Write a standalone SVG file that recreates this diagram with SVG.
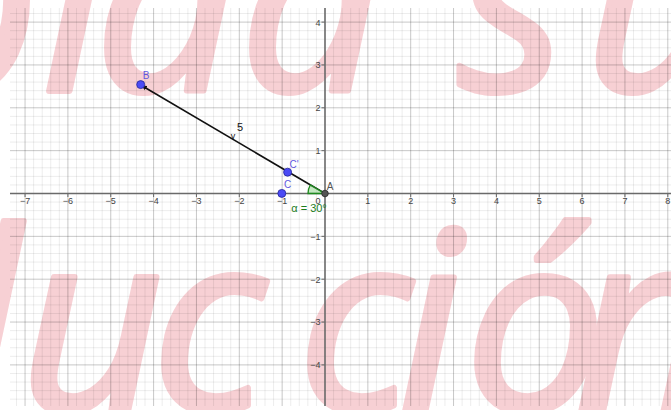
<svg xmlns="http://www.w3.org/2000/svg" width="671" height="410" viewBox="0 0 671 410">
<style>
.wm{font-family:"Open Sans","Liberation Sans",sans-serif;font-style:italic;font-weight:400;font-size:250px;fill:#f7d0d4;stroke:#f7d0d4;stroke-width:6;stroke-linejoin:round}
.minor{stroke:#000;stroke-opacity:0.075;stroke-width:1;fill:none}
.major{stroke:#000;stroke-opacity:0.22;stroke-width:1;fill:none}
.axis{stroke:#6a6a6a;stroke-width:1.6;fill:none}
.tl{font-family:"Liberation Sans",Arial,sans-serif;font-size:9px;fill:#444;text-anchor:middle}
.yl{font-family:"Liberation Sans",Arial,sans-serif;font-size:9px;fill:#444;text-anchor:end}
.pl{font-family:"Liberation Sans",Arial,sans-serif;font-size:10px;fill:#6257e0}
.pt{fill:#4b4bf5;stroke:#26269a;stroke-width:0.8}
</style>
<defs>
<marker id="arr" viewBox="0 0 10 10" refX="9" refY="5" markerWidth="6" markerHeight="6" orient="auto" markerUnits="userSpaceOnUse">
<path d="M0,1 L10,5 L0,9 Z" fill="#111"/>
</marker>
</defs>
<rect width="671" height="410" fill="#fff"/>
<g id="watermark">
<text class="wm" x="-105 42 95 240 400 458 585" y="91">bida su</text>
<text class="wm" x="-125 20 152 298 398 465 575" y="411">ducción</text>
</g>
<g id="grid">
<path class="minor" d="M16.48,8V406M33.62,8V406M42.19,8V406M50.76,8V406M59.33,8V406M76.47,8V406M85.04,8V406M93.61,8V406M102.18,8V406M119.32,8V406M127.89,8V406M136.46,8V406M145.03,8V406M162.17,8V406M170.74,8V406M179.31,8V406M187.88,8V406M205.02,8V406M213.59,8V406M222.16,8V406M230.73,8V406M247.87,8V406M256.44,8V406M265.01,8V406M273.58,8V406M290.72,8V406M299.29,8V406M307.86,8V406M316.43,8V406M333.57,8V406M342.14,8V406M350.71,8V406M359.28,8V406M376.42,8V406M384.99,8V406M393.56,8V406M402.13,8V406M419.27,8V406M427.84,8V406M436.41,8V406M444.98,8V406M462.12,8V406M470.69,8V406M479.26,8V406M487.83,8V406M504.97,8V406M513.54,8V406M522.11,8V406M530.68,8V406M547.82,8V406M556.39,8V406M564.96,8V406M573.53,8V406M590.67,8V406M599.24,8V406M607.81,8V406M616.38,8V406M633.52,8V406M642.09,8V406M650.66,8V406M659.23,8V406
M10,13.53H671M10,30.67H671M10,39.24H671M10,47.81H671M10,56.38H671M10,73.52H671M10,82.09H671M10,90.66H671M10,99.23H671M10,116.37H671M10,124.94H671M10,133.51H671M10,142.08H671M10,159.22H671M10,167.79H671M10,176.36H671M10,184.93H671M10,202.07H671M10,210.64H671M10,219.21H671M10,227.78H671M10,244.92H671M10,253.49H671M10,262.06H671M10,270.63H671M10,287.77H671M10,296.34H671M10,304.91H671M10,313.48H671M10,330.62H671M10,339.19H671M10,347.76H671M10,356.33H671M10,373.47H671M10,382.04H671M10,390.61H671M10,399.18H671"/>
<path class="major" d="M25.05,8V406M67.9,8V406M110.75,8V406M153.6,8V406M196.45,8V406M239.3,8V406M282.15,8V406M367.85,8V406M410.7,8V406M453.55,8V406M496.4,8V406M539.25,8V406M582.1,8V406M624.95,8V406M667.8,8V406
M10,22.1H671M10,64.95H671M10,107.8H671M10,150.65H671M10,236.35H671M10,279.2H671M10,322.05H671M10,364.9H671"/>
</g>
<g id="axes">
<path class="axis" d="M10,193.5H671M325,8V406"/>
<path stroke="#6a6a6a" stroke-width="1" d="M25.05,193.5v3.5M67.9,193.5v3.5M110.75,193.5v3.5M153.6,193.5v3.5M196.45,193.5v3.5M239.3,193.5v3.5M282.15,193.5v3.5M367.85,193.5v3.5M410.7,193.5v3.5M453.55,193.5v3.5M496.4,193.5v3.5M539.25,193.5v3.5M582.1,193.5v3.5M624.95,193.5v3.5M667.8,193.5v3.5M325,22.1h-3.5M325,64.95h-3.5M325,107.8h-3.5M325,150.65h-3.5M325,236.35h-3.5M325,279.2h-3.5M325,322.05h-3.5M325,364.9h-3.5"/>
<g id="xlabels">
<text class="tl" x="25.05" y="204">−7</text>
<text class="tl" x="67.9" y="204">−6</text>
<text class="tl" x="110.75" y="204">−5</text>
<text class="tl" x="153.6" y="204">−4</text>
<text class="tl" x="196.45" y="204">−3</text>
<text class="tl" x="239.3" y="204">−2</text>
<text class="tl" x="282.15" y="204">−1</text>
<text class="tl" x="318" y="204">0</text>
<text class="tl" x="367.85" y="204">1</text>
<text class="tl" x="410.7" y="204">2</text>
<text class="tl" x="453.55" y="204">3</text>
<text class="tl" x="496.4" y="204">4</text>
<text class="tl" x="539.25" y="204">5</text>
<text class="tl" x="582.1" y="204">6</text>
<text class="tl" x="624.95" y="204">7</text>
<text class="tl" x="667.8" y="204">8</text>
</g>
<g id="ylabels">
<text class="yl" x="320.5" y="25.5">4</text>
<text class="yl" x="320.5" y="68.3">3</text>
<text class="yl" x="320.5" y="111.2">2</text>
<text class="yl" x="320.5" y="154">1</text>
<text class="yl" x="320.5" y="239.7">−1</text>
<text class="yl" x="320.5" y="282.6">−2</text>
<text class="yl" x="320.5" y="325.4">−3</text>
<text class="yl" x="320.5" y="368.3">−4</text>
</g>
</g>
<g id="connectors">
<line id="vector-v" x1="325" y1="193.5" x2="141.5" y2="85.5" stroke="#111" stroke-width="1.6" marker-end="url(#arr)"/>
<path id="angle-alpha" d="M325,193.5 L308,193.5 A17,17 0 0,1 310.3,185 Z" fill="#9fd99a" fill-opacity="0.6" stroke="#1e8a1e" stroke-width="1.3"/>
</g>
<g id="label-v">
<text x="240" y="131" font-family="Liberation Sans,Arial,sans-serif" font-size="11" fill="#111" text-anchor="middle">5</text>
<text x="233" y="138.5" font-family="Liberation Sans,Arial,sans-serif" font-size="9" fill="#111" text-anchor="middle">v</text>
</g>
<g id="label-alpha">
<text x="309" y="212" font-family="Liberation Sans,Arial,sans-serif" font-size="11" fill="#1e7d1e" text-anchor="middle">α = 30°</text>
</g>
<g id="point-B">
<circle class="pt" cx="140.7" cy="84.6" r="4"/>
<text class="pl" x="146" y="79" text-anchor="middle">B</text>
</g>
<g id="point-Cp">
<circle class="pt" cx="287.6" cy="172.2" r="4"/>
<text class="pl" x="294" y="168" text-anchor="middle">C'</text>
</g>
<g id="point-C">
<circle class="pt" cx="281.8" cy="193.4" r="4"/>
<text class="pl" x="287.5" y="187.5" text-anchor="middle">C</text>
</g>
<g id="point-A">
<circle cx="325" cy="193.5" r="3.3" fill="#555" stroke="#2a2a2a" stroke-width="0.8"/>
<text x="330" y="190" font-family="Liberation Sans,Arial,sans-serif" font-size="10" fill="#555" text-anchor="middle">A</text>
</g>
</svg>
